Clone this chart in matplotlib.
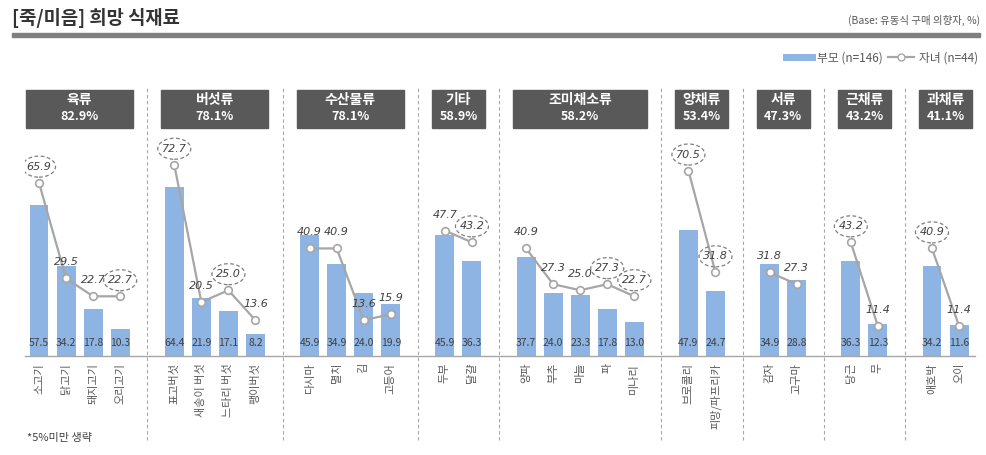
import matplotlib
matplotlib.use('Agg')
import matplotlib.pyplot as plt
from matplotlib.patches import Ellipse, Rectangle
from matplotlib.lines import Line2D

plt.rcParams['font.family'] = ['Noto Sans CJK KR', 'DejaVu Sans']

# ---------------- data ----------------
groups = ['육류', '버섯류', '수산물류', '기타', '조미채소류', '양채류', '서류', '근채류', '과채류']
group_pct = ['82.9%', '78.1%', '78.1%', '58.9%', '58.2%', '53.4%', '47.3%', '43.2%', '41.1%']
items = [['소고기', '닭고기', '돼지고기', '오리고기'],
         ['표고버섯', '새송이 버섯', '느타리 버섯', '팽이버섯'],
         ['다시마', '멸치', '김', '고등어'],
         ['두부', '달걀'],
         ['양파', '부추', '마늘', '파', '미나리'],
         ['브로콜리', '피망/파프리카'],
         ['감자', '고구마'],
         ['당근', '무'],
         ['애호박', '오이']]
parent = [[57.5, 34.2, 17.8, 10.3],
          [64.4, 21.9, 17.1, 8.2],
          [45.9, 34.9, 24.0, 19.9],
          [45.9, 36.3],
          [37.7, 24.0, 23.3, 17.8, 13.0],
          [47.9, 24.7],
          [34.9, 28.8],
          [36.3, 12.3],
          [34.2, 11.6]]
child = [[65.9, 29.5, 22.7, 22.7],
         [72.7, 20.5, 25.0, 13.6],
         [40.9, 40.9, 13.6, 15.9],
         [47.7, 43.2],
         [40.9, 27.3, 25.0, 27.3, 22.7],
         [70.5, 31.8],
         [31.8, 27.3],
         [43.2, 11.4],
         [40.9, 11.4]]
highlight = [[1, 0, 0, 1],
             [1, 0, 1, 0],
             [0, 0, 0, 0],
             [0, 1],
             [0, 0, 0, 1, 1],
             [1, 1],
             [0, 0],
             [1, 0],
             [1, 0]]
legend_labels = ['부모 (n=146)', '자녀 (n=44)']

# ---------------- style ----------------
BAR = '#8DB4E2'
LINE = '#A6A6A6'
DARK = '#404040'
HEAD = '#595959'

W, H = 987, 455
fig = plt.figure(figsize=(W / 100, H / 100), dpi=100)
ax = fig.add_axes([25 / W, 1 - 356 / H, 950 / W, 268 / H])

# positions with one empty slot between groups
positions = []
p = 0
for g in items:
    positions.append(list(range(p, p + len(g))))
    p += len(g) + 1

all_pos, all_lab = [], []
for gi, g in enumerate(items):
    xs = positions[gi]
    all_pos += xs
    all_lab += g
    ax.bar(xs, parent[gi], width=0.7, color=BAR, zorder=2)
    for x, v in zip(xs, parent[gi]):
        ax.text(x, 4.9, f'{v:.1f}', ha='center', va='center', fontsize=7.5,
                color=DARK, zorder=5)
    ax.plot(xs, child[gi], '-o', color=LINE, lw=1.6, ms=5.5, mfc='white',
            mec=LINE, mew=1.2, zorder=4)
    for x, v, h in zip(xs, child[gi], highlight[gi]):
        ax.text(x, v + 6.1, f'{v:.1f}', ha='center', va='center', fontsize=8,
                style='italic', family='DejaVu Sans', color=DARK, zorder=6)
        if h:
            ax.add_patch(Ellipse((x, v + 6.1), 1.22, 8.0, fill=False, ls=(0, (3, 2)),
                                 ec='#7F7F7F', lw=0.9, zorder=6))
    # header box
    x0 = xs[0] - 0.48
    wdt = xs[-1] - xs[0] + 0.96
    ax.add_patch(Rectangle((x0, 86.7), wdt, 14.4, color=HEAD, clip_on=False, zorder=3))
    cx = (xs[0] + xs[-1]) / 2
    ax.text(cx, 97.2, groups[gi], ha='center', va='center', fontsize=10,
            fontweight='bold', color='white', clip_on=False, zorder=4)
    ax.text(cx, 91.0, group_pct[gi], ha='center', va='center', fontsize=9,
            fontweight='bold', color='white', clip_on=False, zorder=4)
    # separator
    if gi < len(items) - 1:
        sx = xs[-1] + 1
        ax.plot([sx, sx], [-0.313, 1.0], transform=ax.get_xaxis_transform(),
                color=LINE, lw=0.8, ls=(0, (3, 2.5)), clip_on=False, zorder=1)

ax.set_xlim(-0.517, 34.59)
ax.set_ylim(0, 101.9)
ax.set_xticks(all_pos)
ax.set_xticklabels(all_lab, rotation=90, fontsize=8, color=HEAD)
ax.tick_params(axis='x', length=0, pad=5)
ax.set_yticks([])
for s in ['top', 'left', 'right']:
    ax.spines[s].set_visible(False)
ax.spines['bottom'].set_color(LINE)
ax.spines['bottom'].set_linewidth(1.0)
ax.patch.set_alpha(0)

# title & header items
fig.text(12 / W, 1 - 18 / H, '[죽/미음] 희망 식재료', fontsize=13.5, fontweight='bold',
         va='center', ha='left', color='#333333')
fig.add_artist(Rectangle((12 / W, 1 - 37 / H), (980 - 12) / W, 4 / H,
                         transform=fig.transFigure, color='#7F7F7F'))
fig.text(980 / W, 1 - 20 / H, '(Base: 유동식 구매 의향자, %)', ha='right', va='center',
         fontsize=7.5, color=HEAD)
fig.text(27 / W, 1 - 438 / H, '*5%미만 생략', ha='left', va='center', fontsize=8, color=DARK)

handles = [Line2D([], [], color=BAR, lw=5),
           Line2D([], [], color=LINE, lw=1.6, marker='o', ms=5, mfc='white', mec=LINE)]
fig.legend(handles, legend_labels, loc='center right', bbox_to_anchor=(978 / W, 1 - 58 / H),
           ncol=2, frameon=False, fontsize=8.5, labelcolor=HEAD, handlelength=2.2,
           handletextpad=0.4, columnspacing=0.5, borderaxespad=0, borderpad=0)

fig.savefig('out.png', dpi=100)
